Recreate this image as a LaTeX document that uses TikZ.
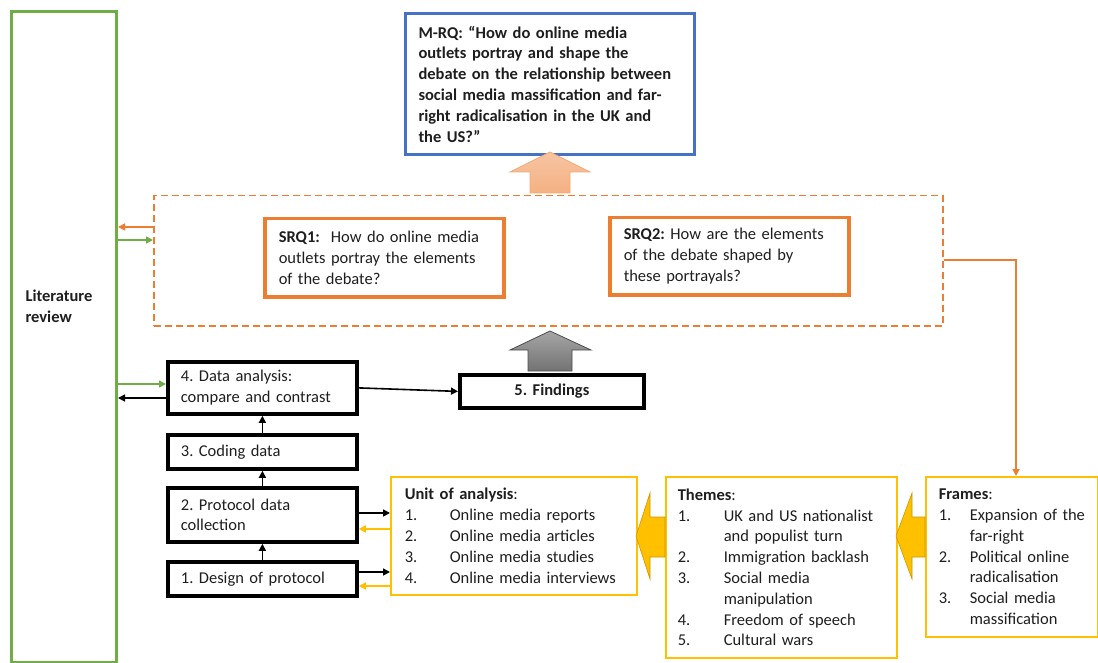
\documentclass[tikz,border=0pt]{standalone}
\usepackage{fontspec}
\setmainfont{Carlito}
\usetikzlibrary{arrows.meta}
\definecolor{cgreen}{HTML}{70AD47}
\definecolor{cblue}{HTML}{4472C4}
\definecolor{corange}{HTML}{ED7D31}
\definecolor{cyellow}{HTML}{FFC000}
\definecolor{cyelldark}{HTML}{C99700}
\definecolor{csalmon}{HTML}{F4B183}
\definecolor{ctext}{HTML}{1E1E1E}
\newcommand{\itm}[3]{\mbox{\makebox[#1][l]{#2}#3}}
\frenchspacing
\begin{document}
\frenchspacing
\begin{tikzpicture}[x=1pt,y=-1pt,
  font=\fontsize{16.5}{20.8}\selectfont\frenchspacing, text=ctext,
  >={Triangle[length=7pt,width=7pt]},
  bx/.style={anchor=north west, align=left, inner ysep=0pt},
  blk/.style={bx, draw=black, line width=3.8pt, inner xsep=13pt},
  srq/.style={bx, draw=corange, line width=3.5pt, inner xsep=14pt},
  ylw/.style={bx, draw=cyellow, line width=1.6pt, inner xsep=13pt},
  conn/.style={line width=1.6pt},
  yarrow/.style={fill=cyellow, draw=cyelldark, line width=0.6pt}]
\useasboundingbox (0,0) rectangle (1098,663);

% main boxes
\node[bx, draw=cgreen, line width=3pt, minimum width=105pt, minimum height=651pt] (lit) at (10,10) {};
\node[anchor=west, align=left, font=\fontsize{16.5}{20.8}\selectfont\bfseries] (littxt) at (22,306) {Literature\\review};

\node[bx, draw=cblue, line width=3pt, inner xsep=13pt, text width=263pt, minimum height=141pt, font=\fontsize{16.5}{20.8}\selectfont\bfseries] (mrq) at (404,12)
 {M-RQ: “How do online media\\outlets portray and shape the\\debate on the relationship between\\social media massification and far-\\right radicalisation in the UK and\\the US?”};

\node[bx, draw=corange, line width=1.5pt, dash pattern=on 7pt off 4pt, minimum width=789pt, minimum height=130pt] (debate) at (153,195) {};

\node[srq, text width=211pt, minimum height=78pt] (srq1) at (263,217)
 {\textbf{SRQ1:}\ \ How do online media\\outlets portray the elements\\of the debate?};
\node[srq, text width=211pt, minimum height=77pt] (srq2) at (608,216)
 {\textbf{SRQ2:} How are the elements\\of the debate shaped by\\these portrayals?};

\node[blk, text width=163pt, minimum height=52pt] (d4) at (166,360) {4. Data analysis:\\compare and contrast};
\node[blk, align=center, text width=158pt, minimum height=33pt, font=\fontsize{16.5}{20.8}\selectfont\bfseries] (d5) at (458,373) {5. Findings};
\node[blk, text width=163pt, minimum height=34pt] (d3) at (166,433) {3. Coding data};
\node[blk, text width=163pt, minimum height=54pt] (d2) at (166,486) {2. Protocol data\\collection};
\node[blk, text width=163pt, minimum height=34pt] (d1) at (166,560) {1. Design of protocol};

\node[ylw, inner xsep=14pt, text width=218pt, minimum height=118pt] (unit) at (390,476)
 {\textbf{Unit of analysis}:\\
  \itm{45pt}{1.}{Online media reports}\\
  \itm{45pt}{2.}{Online media articles}\\
  \itm{45pt}{3.}{Online media studies}\\
  \itm{45pt}{4.}{Online media interviews}};
\node[ylw, inner xsep=12pt, text width=207pt, minimum height=181pt] (themes) at (665,476)
 {\textbf{Themes}:\\
  \itm{46pt}{1.}{UK and US nationalist}\\
  \itm{46pt}{}{and populist turn}\\
  \itm{46pt}{2.}{Immigration backlash}\\
  \itm{46pt}{3.}{Social media}\\
  \itm{46pt}{}{manipulation}\\
  \itm{46pt}{4.}{Freedom of speech}\\
  \itm{46pt}{5.}{Cultural wars}};
\node[ylw, inner xsep=13pt, text width=146pt, minimum height=160pt] (frames) at (925,476)
 {\textbf{Frames}:\\
  \itm{31pt}{1.}{Expansion of the}\\
  \itm{31pt}{}{far-right}\\
  \itm{31pt}{2.}{Political online}\\
  \itm{31pt}{}{radicalisation}\\
  \itm{31pt}{3.}{Social media}\\
  \itm{31pt}{}{massification}};

% block arrows
\draw[draw=csalmon!85!corange, line width=0.8pt, top color=csalmon!75, bottom color=csalmon]
  (530,193) -- (530,172) -- (510,172) -- (550,152) -- (590,172) -- (570,172) -- (570,193) -- cycle;
\draw[draw=black!70, line width=0.8pt, top color=black!35, bottom color=black!55]
  (528,371) -- (528,350) -- (510,350) -- (550,331) -- (591,350) -- (572,350) -- (572,371) -- cycle;
\draw[yarrow] (665,517) -- (650,517) -- (650,493) -- (636,536) -- (650,579) -- (650,557) -- (665,557) -- cycle;
\draw[yarrow] (925,517) -- (912,517) -- (912,493) -- (896,536) -- (912,579) -- (912,557) -- (925,557) -- cycle;

% helper coordinates
\coordinate (y227) at (0,227);
\coordinate (y240) at (0,240);
\coordinate (y260) at (0,260);
\coordinate (y384) at (0,384);
\coordinate (y398) at (0,398);
\coordinate (y513) at (0,513);
\coordinate (y529) at (0,529);
\coordinate (y572) at (0,572);
\coordinate (y586) at (0,586);
\coordinate (fx) at (1016,0);

% connectors
\draw[conn, corange, ->] (debate.west |- y227) -- (lit.east |- y227);
\draw[conn, cgreen, ->] (lit.east |- y240) -- (debate.west |- y240);
\draw[conn, cgreen, ->] (lit.east |- y384) -- (d4.west |- y384);
\draw[conn, black, ->] (d4.west |- y398) -- (lit.east |- y398);
\draw[conn, black, ->] (d4.east) -- (d5.west);
\draw[conn, black, ->] (d3.north) -- (d4.south);
\draw[conn, black, ->] (d2.north) -- (d3.south);
\draw[conn, black, ->] (d1.north) -- (d2.south);
\draw[conn, black, ->] (d2.east |- y513) -- (unit.west |- y513);
\draw[conn, cyellow, ->] (unit.west |- y529) -- (d2.east |- y529);
\draw[conn, black, ->] (d1.east |- y572) -- (unit.west |- y572);
\draw[conn, cyellow, ->] (unit.west |- y586) -- (d1.east |- y586);
\draw[conn, corange, ->] (debate.east |- y260) -| (fx |- frames.north);
\end{tikzpicture}
\end{document}
